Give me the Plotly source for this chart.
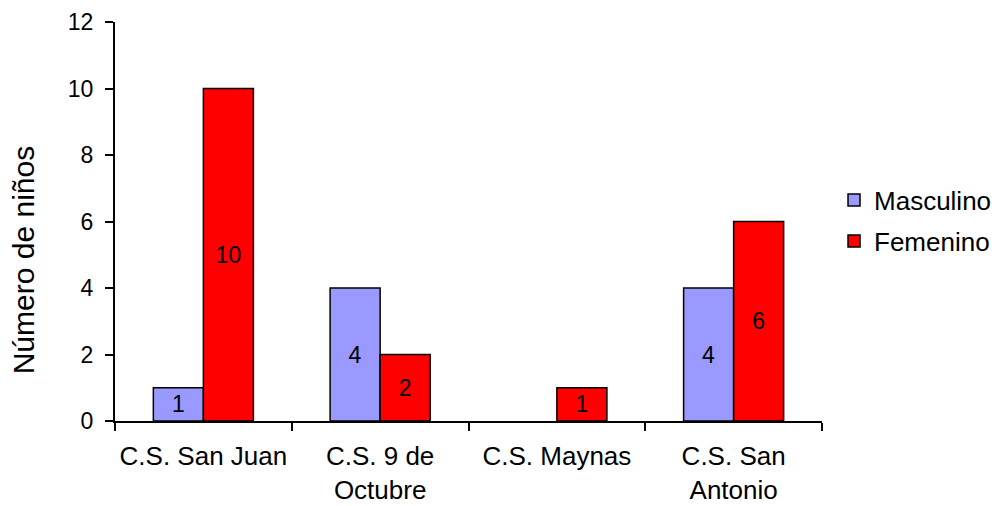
import plotly.graph_objects as go

centros = ["C.S. San Juan", "C.S. 9 de<br>Octubre", "C.S. Maynas", "C.S. San<br>Antonio"]
masculino = [1, 4, None, 4]
femenino = [10, 2, 1, 6]

def etiquetas(vals):
    return ["" if v is None else str(v) for v in vals]

font_family = "Liberation Sans, Arial, sans-serif"

fig = go.Figure()
fig.add_trace(go.Bar(
    name="Masculino", x=centros, y=masculino, text=etiquetas(masculino),
    legendgroup="m",
    marker=dict(color="#9999FF", line=dict(color="black", width=1.5)),
))
fig.add_trace(go.Bar(
    name="Femenino", x=centros, y=femenino, text=etiquetas(femenino),
    legendgroup="f",
    marker=dict(color="#FF0000", line=dict(color="black", width=1.5)),
))
fig.update_traces(
    textposition="inside", insidetextanchor="middle", textangle=0,
    constraintext="none", cliponaxis=False,
    insidetextfont=dict(family=font_family, size=23, color="black"),
)

fig.update_layout(
    width=997, height=506,
    margin=dict(l=115, r=175, t=22, b=85, autoexpand=False),
    paper_bgcolor="white", plot_bgcolor="white",
    barmode="group", bargap=0.434, bargroupgap=0,
    font=dict(family=font_family, size=23, color="black"),
    showlegend=True,
    legend=dict(x=1.017, y=0.502, xanchor="left", yanchor="middle",
                font=dict(size=26), traceorder="grouped", tracegroupgap=4,
                itemwidth=30),
    xaxis=dict(
        showline=True, linecolor="black", linewidth=2,
        ticks="outside", ticklen=8, tickwidth=2, tickcolor="black",
        tickson="boundaries", showgrid=False, ticklabelstandoff=11,
        tickangle=0, automargin=False, tickfont=dict(size=26),
    ),
    yaxis=dict(
        range=[0, 12], dtick=2, showline=True, linecolor="black", linewidth=2,
        ticks="outside", ticklen=8, tickwidth=2, tickcolor="black",
        showgrid=False, zeroline=False, automargin=False,
        ticklabelstandoff=7, tickfont=dict(size=23),
    ),
    annotations=[dict(
        text="Número de niños", textangle=-90, xref="paper", yref="paper",
        x=-0.13, y=0.403, xanchor="center", yanchor="middle",
        showarrow=False, font=dict(size=30),
    )],
)

fig.write_html("out.html")
